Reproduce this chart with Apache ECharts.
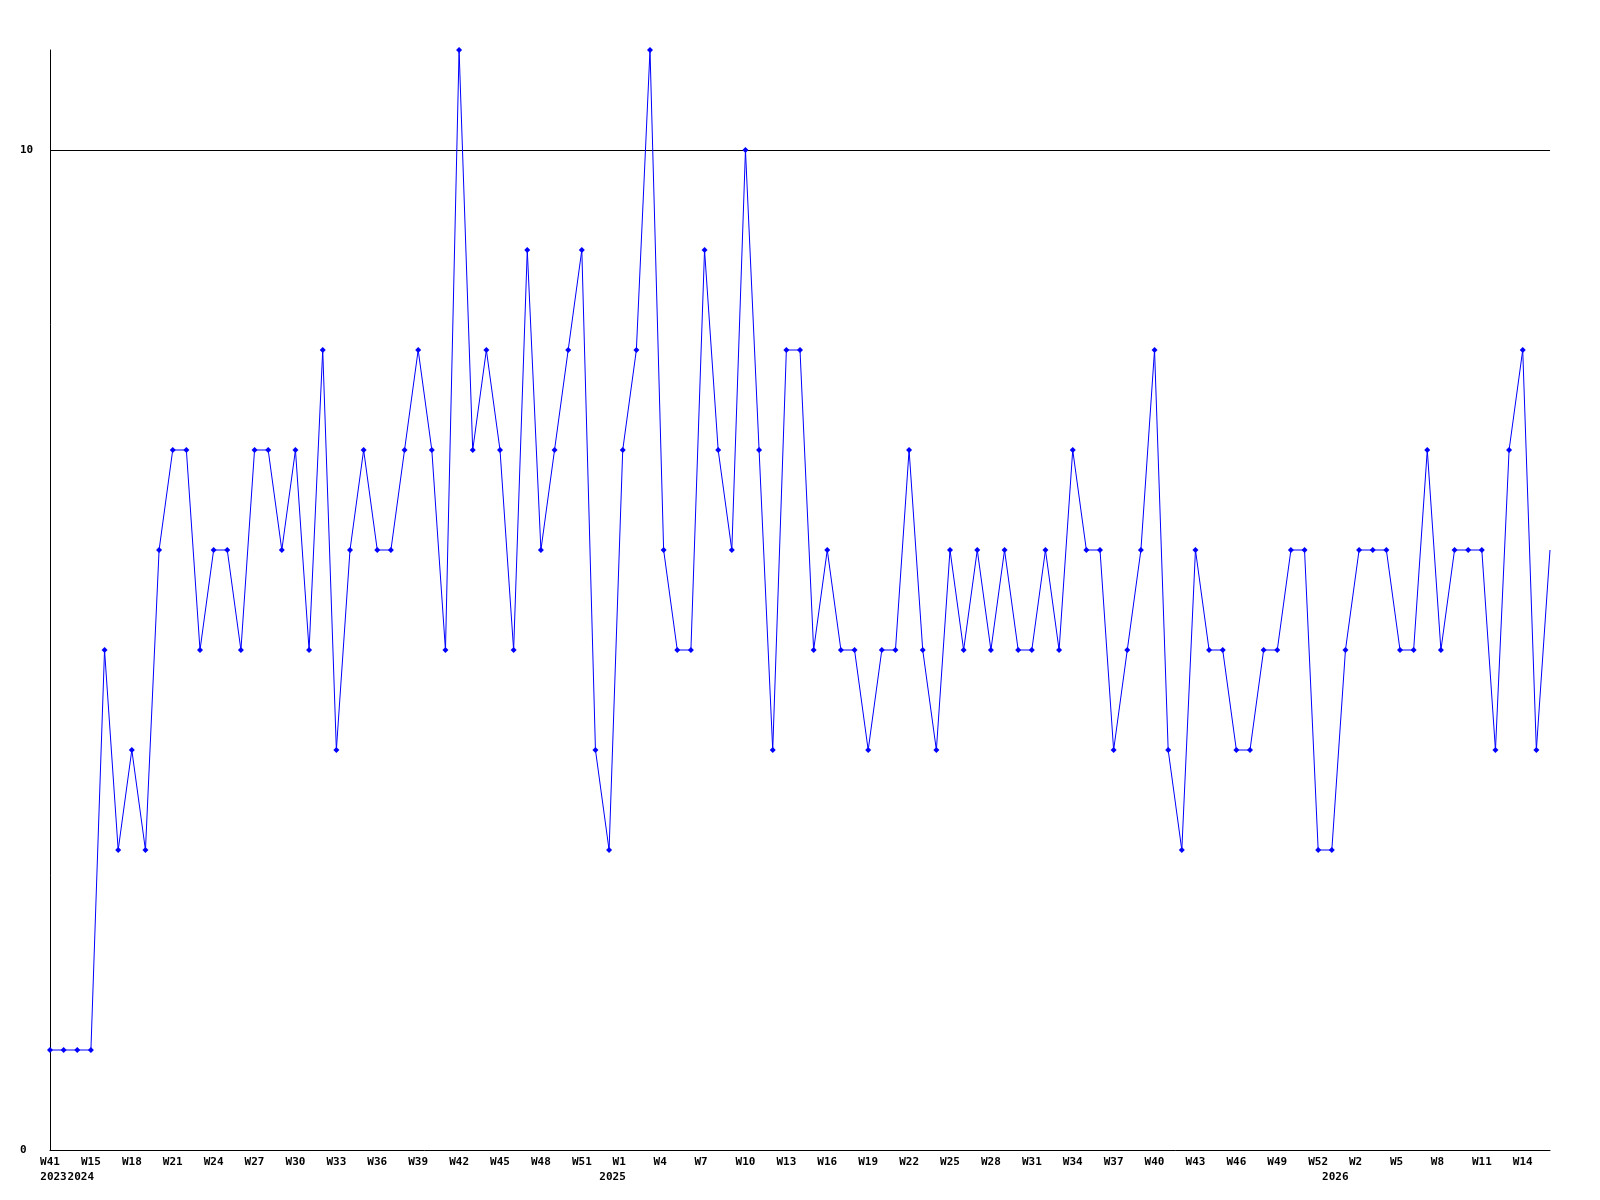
<!DOCTYPE html>
<html>
<head>
<meta charset="utf-8">
<script src="https://cdn.jsdelivr.net/npm/echarts@6/dist/echarts.min.js"></script>
<style>
  html, body { margin: 0; padding: 0; background: #fff; }
  #chart { width: 1600px; height: 1200px; }
</style>
</head>
<body>
<div id="chart"></div>
<script>
// week categories, one per point
var weeks = [
  'W41', 'W42', 'W43',
  'W15', 'W16', 'W17', 'W18', 'W19', 'W20', 'W21', 'W22', 'W23', 'W24', 'W25', 'W26', 'W27', 'W28', 'W29', 'W30',
  'W31', 'W32', 'W33', 'W34', 'W35', 'W36', 'W37', 'W38', 'W39', 'W40', 'W41', 'W42', 'W43', 'W44', 'W45', 'W46',
  'W47', 'W48', 'W49', 'W50', 'W51', 'W52', 'W53',
  'W1', 'W2', 'W3', 'W4', 'W5', 'W6', 'W7', 'W8', 'W9', 'W10', 'W11', 'W12', 'W13', 'W14', 'W15', 'W16', 'W17',
  'W18', 'W19', 'W20', 'W21', 'W22', 'W23', 'W24', 'W25', 'W26', 'W27', 'W28', 'W29', 'W30', 'W31', 'W32', 'W33',
  'W34', 'W35', 'W36', 'W37', 'W38', 'W39', 'W40', 'W41', 'W42', 'W43', 'W44', 'W45', 'W46', 'W47', 'W48', 'W49',
  'W50', 'W51', 'W52', 'W53',
  'W1', 'W2', 'W3', 'W4', 'W5', 'W6', 'W7', 'W8', 'W9', 'W10', 'W11', 'W12', 'W13', 'W14', 'W15', 'W16'
]

// year labels under the week row (index -> text)
var yearIndex = [0, 2, 41, 94]
var yearText = ['2023', '2024', '2025', '2026']

var counts = [
  1, 1, 1, 1, 5, 3, 4, 3, 6, 7,
  7, 5, 6, 6, 5, 7, 7, 6, 7, 5,
  8, 4, 6, 7, 6, 6, 7, 8, 7, 5,
  11, 7, 8, 7, 5, 9, 6, 7, 8, 9,
  4, 3, 7, 8, 11, 6, 5, 5, 9, 7,
  6, 10, 7, 4, 8, 8, 5, 6, 5, 5,
  4, 5, 5, 7, 5, 4, 6, 5, 6, 5,
  6, 5, 5, 6, 5, 7, 6, 6, 4, 5,
  6, 8, 4, 3, 6, 5, 5, 4, 4, 5,
  5, 6, 6, 3, 3, 5, 6, 6, 6, 5,
  5, 7, 5, 6, 6, 6, 4, 7, 8, 4, 6
]

var yMin = 0
var yMax = 11
var yStep = 10

var labelFont = {
  fontFamily: 'DejaVu Sans Mono',
  fontWeight: 'bold',
  fontSize: 11,
  color: '#000'
}

var myChart = echarts.init(document.getElementById('chart'), null, { renderer: 'canvas' })

myChart.setOption({
  backgroundColor: '#fff',
  animation: false,
  grid: {
    left: 50,
    right: 50,
    top: 50,
    bottom: 50
  },
  xAxis: [
    {
      type: 'category',
      boundaryGap: false,
      data: weeks,
      axisLine: { show: true, lineStyle: { color: '#000', width: 1 } },
      axisTick: { show: false },
      splitLine: { show: false },
      axisLabel: Object.assign({
        interval: 2,
        margin: 7,
        hideOverlap: false,
        // short labels sit a little left of the tick, like 3-char ones
        formatter: function (v) {
          return v.length < 3 ? '{s|' + v + '}' : v
        },
        rich: {
          s: Object.assign({ padding: [0, 7, 0, 0] }, labelFont)
        }
      }, labelFont)
    },
    {
      type: 'category',
      boundaryGap: false,
      position: 'bottom',
      offset: 15,
      data: weeks.map(function (w, i) {
        var k = yearIndex.indexOf(i)
        return k >= 0 ? yearText[k] : ''
      }),
      axisLine: { show: false },
      axisTick: { show: false },
      splitLine: { show: false },
      axisLabel: Object.assign({
        interval: function (i) { return yearIndex.indexOf(i) >= 0 },
        margin: 7,
        hideOverlap: false,
        padding: [0, 0, 0, 7]
      }, labelFont)
    }
  ],
  yAxis: {
    type: 'value',
    min: yMin,
    max: yMax,
    interval: yStep,
    axisLine: { show: true, lineStyle: { color: '#000', width: 1 } },
    axisTick: { show: false },
    splitLine: {
      show: true,
      showMinLine: false,
      showMaxLine: false,
      lineStyle: { color: '#000', width: 1 }
    },
    axisLabel: Object.assign({
      showMaxLabel: false,
      align: 'left',
      margin: 30
    }, labelFont)
  },
  series: [
    {
      type: 'line',
      data: counts,
      symbol: 'diamond',
      symbolSize: function (v, p) {
        return p.dataIndex === counts.length - 1 ? 0 : 6
      },
      showAllSymbol: true,
      clip: false,
      lineStyle: { color: '#0000ff', width: 1 },
      itemStyle: { color: '#0000ff', borderWidth: 0 }
    }
  ]
})
</script>
</body>
</html>
